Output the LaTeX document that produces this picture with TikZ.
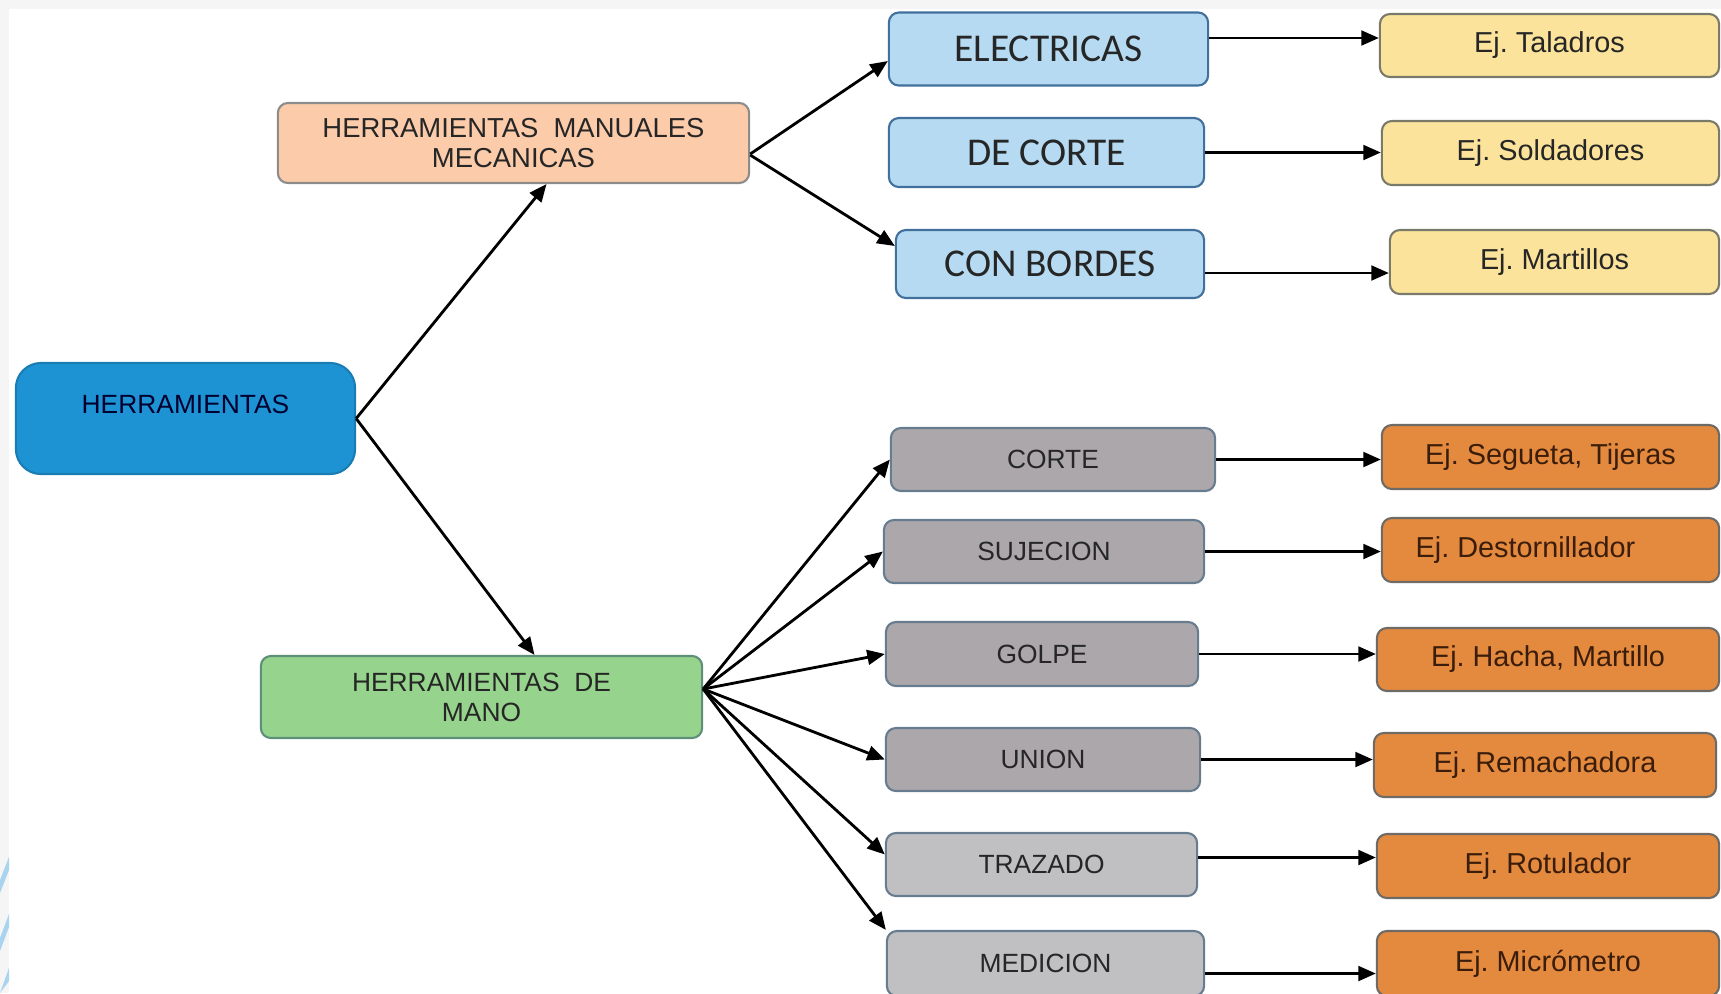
\documentclass[tikz,border=0pt]{standalone}
\usepackage{fontspec}
\setmainfont{Liberation Sans}
\newfontfamily\calib{Carlito}
\usetikzlibrary{arrows.meta}

\definecolor{rootblue}{HTML}{1E93D3}
\definecolor{peach}{HTML}{FBCBAA}
\definecolor{leaf}{HTML}{96D38C}
\definecolor{sky}{HTML}{B5DAF1}
\definecolor{sand}{HTML}{FBE39C}
\definecolor{stone}{HTML}{ABA7AA}
\definecolor{stonel}{HTML}{C0C0C2}
\definecolor{rust}{HTML}{E48A3E}
\definecolor{stripe}{HTML}{A8D4EF}
\definecolor{skyline}{HTML}{41709C}
\definecolor{stoneline}{HTML}{687C90}
\definecolor{rustline}{HTML}{6E6A66}
\definecolor{sandline}{HTML}{7A7A6A}
\definecolor{leafline}{HTML}{5E8F78}
\definecolor{rusttext}{HTML}{3B1D0C}

\tikzset{
  box/.style={rectangle, rounded corners=0.1cm, line width=0.6pt, inner sep=0pt,
    align=center, text=black!85, font=\fontsize{7.5}{8.5}\selectfont},
  rootbox/.style={box, rounded corners=0.25cm, fill=rootblue, draw=rootblue!85!black, text=black!70!blue!60!black},
  toolbox/.style={box, fill=peach, draw=black!45},
  handbox/.style={box, fill=leaf, draw=leafline},
  kindbox/.style={box, fill=sky, draw=skyline, font=\calib\fontsize{11.2}{13}\selectfont},
  cutbox/.style={box, fill=stone, draw=stoneline},
  markbox/.style={box, fill=stonel, draw=stoneline},
  yelbox/.style={box, fill=sand, draw=sandline, font=\fontsize{8.2}{9.5}\selectfont},
  orbox/.style={box, fill=rust, draw=rustline, text=rusttext, font=\fontsize{8.2}{9.5}\selectfont},
  arr/.style={-{Triangle[length=5pt,width=4.2pt]}, line width=0.8pt},
}

\begin{document}
\begin{tikzpicture}[x=0.01cm, y=-0.01cm]
  \useasboundingbox (0,0) rectangle (1721,993);
  % slide edges
  \fill[black!4] (0,0) rectangle (1721,9);
  \fill[black!4] (0,0) rectangle (9,993);
  \fill[stripe] (0,880) -- (9,857) -- (9,870) -- (0,893) -- cycle;
  \fill[stripe] (0,938) -- (9,914) -- (9,927) -- (0,951) -- cycle;
  \fill[stripe] (0,993) -- (9,968) -- (9,981) -- (0,993) -- cycle;

  \node[rootbox, minimum width=3.39cm, minimum height=1.11cm] (r) at (185.5,418.5) {\raisebox{1.4pt}[0pt][0pt]{HERRAMIENTAS}};
  \node[toolbox, minimum width=4.71cm, minimum height=0.80cm, font=\fontsize{7.8}{8.5}\selectfont] (a) at (513.5,143) {HERRAMIENTAS\ \ MANUALES\\MECANICAS};
  \node[handbox, minimum width=4.41cm, minimum height=0.82cm] (b) at (481.5,697) {HERRAMIENTAS\ \ DE\\MANO};

  \node[kindbox, minimum width=3.19cm, minimum height=0.73cm] (k1) at (1048.5,49) {ELECTRICAS};
  \node[kindbox, minimum width=3.15cm, minimum height=0.69cm] (k2) at (1046.5,152.5) {DE CORTE};
  \node[kindbox, minimum width=3.08cm, minimum height=0.68cm] (k3) at (1050,264) {CON BORDES};

  \node[yelbox, minimum width=3.39cm, minimum height=0.63cm] (y1) at (1549.5,45.5) {Ej.\ Taladros};
  \node[yelbox, minimum width=3.37cm, minimum height=0.64cm] (y2) at (1550.5,153) {Ej.\ Soldadores};
  \node[yelbox, minimum width=3.29cm, minimum height=0.64cm] (y3) at (1554.5,262) {Ej.\ Martillos};

  \node[cutbox, minimum width=3.24cm, minimum height=0.63cm] (m1) at (1053,459.5) {CORTE};
  \node[cutbox, minimum width=3.20cm, minimum height=0.63cm] (m2) at (1044,551.5) {SUJECION};
  \node[cutbox, minimum width=3.12cm, minimum height=0.64cm] (m3) at (1042,654) {GOLPE};
  \node[cutbox, minimum width=3.14cm, minimum height=0.63cm] (m4) at (1043,759.5) {UNION};
  \node[markbox, minimum width=3.11cm, minimum height=0.63cm] (m5) at (1041.5,864.5) {TRAZADO};
  \node[markbox, minimum width=3.17cm, minimum height=0.65cm] (m6) at (1045.5,963.5) {MEDICION};

  \node[orbox, minimum width=3.37cm, minimum height=0.64cm] (o1) at (1550.5,457) {Ej.\ Segueta, Tijeras};
  \node[orbox, minimum width=3.37cm, minimum height=0.64cm] (o2) at (1550.5,550) {Ej.\ Destornillador\hspace{0.5cm}};
  \node[orbox, minimum width=3.42cm, minimum height=0.63cm] (o3) at (1548,659.5) {Ej.\ Hacha, Martillo};
  \node[orbox, minimum width=3.42cm, minimum height=0.64cm] (o4) at (1545,765) {Ej.\ Remachadora};
  \node[orbox, minimum width=3.42cm, minimum height=0.64cm] (o5) at (1548,866) {Ej.\ Rotulador};
  \node[orbox, minimum width=3.42cm, minimum height=0.65cm] (o6) at (1548,963.5) {Ej.\ Micrómetro};

  \draw[arr] (r.east) -- ([xshift=0.33cm]a.south);
  \draw[arr] (r.east) -- ([xshift=0.53cm]b.north);
  \draw[arr] ([yshift=-0.11cm]a.east) -- ([yshift=-0.12cm]k1.west);
  \draw[arr] ([yshift=-0.12cm]a.east) -- ([yshift=0.18cm]k3.west);
  \draw[arr] ([yshift=0.11cm]k1.east) -- ([yshift=0.11cm]k1.east -| y1.west);
  \draw[arr] (k2.east) -- (k2.east -| y2.west);
  \draw[arr] ([yshift=-0.09cm]k3.east) -- ([yshift=-0.09cm]k3.east -| y3.west);

  \draw[arr] ([yshift=0.08cm]b.east) -- (m1.west);
  \draw[arr] ([yshift=0.08cm]b.east) -- (m2.west);
  \draw[arr] ([yshift=0.08cm]b.east) -- (m3.west);
  \draw[arr] ([yshift=0.08cm]b.east) -- (m4.west);
  \draw[arr] ([yshift=0.08cm]b.east) -- ([yshift=0.1cm]m5.west);
  \draw[arr] ([yshift=0.08cm]b.east) -- (m6.north west);

  \draw[arr] (m1.east) -- (m1.east -| o1.west);
  \draw[arr] (m2.east) -- (m2.east -| o2.west);
  \draw[arr] (m3.east) -- (m3.east -| o3.west);
  \draw[arr] (m4.east) -- (m4.east -| o4.west);
  \draw[arr] ([yshift=0.07cm]m5.east) -- ([yshift=0.07cm]m5.east -| o5.west);
  \draw[arr] ([yshift=-0.1cm]m6.east) -- ([yshift=-0.1cm]m6.east -| o6.west);
\end{tikzpicture}
\end{document}
